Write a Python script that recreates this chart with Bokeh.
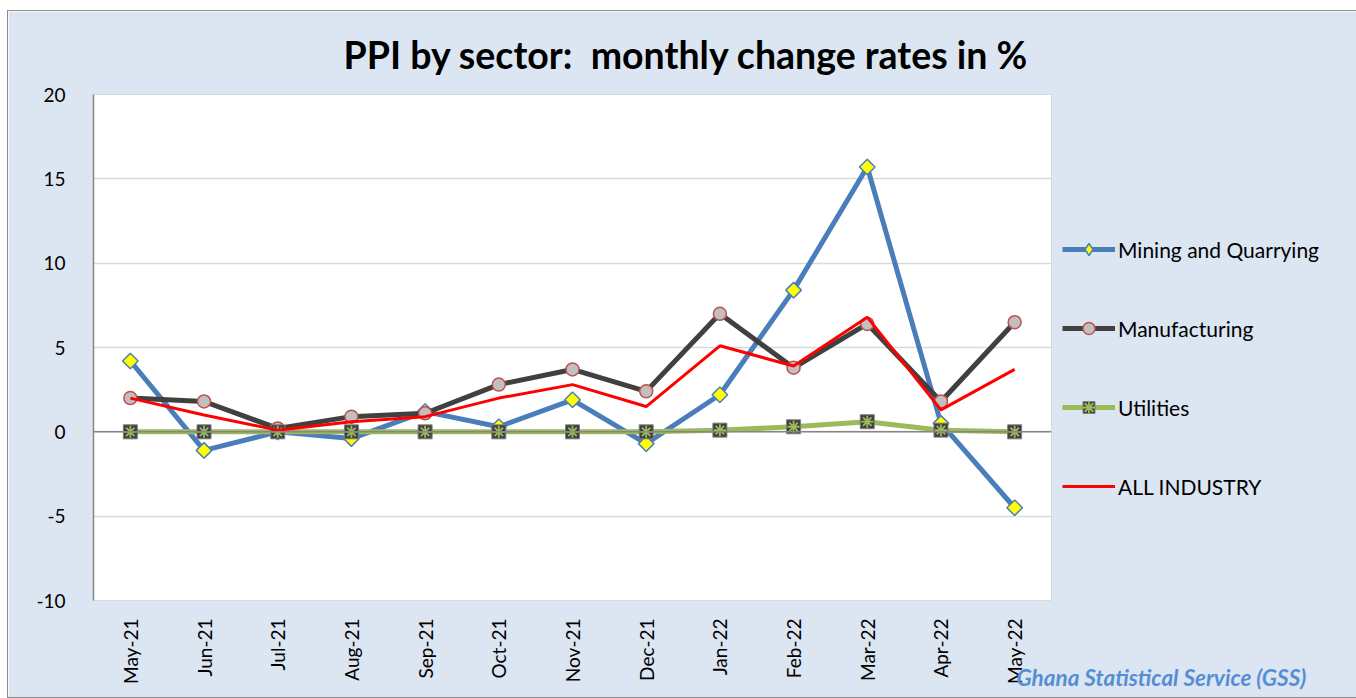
import math
from bokeh.plotting import figure
from bokeh.models import FactorRange, Span, Legend, LegendItem, FixedTicker, Title
from bokeh.embed import file_html
from bokeh.resources import INLINE

months = ["May-21", "Jun-21", "Jul-21", "Aug-21", "Sep-21", "Oct-21", "Nov-21",
          "Dec-21", "Jan-22", "Feb-22", "Mar-22", "Apr-22", "May-22"]
mining = [4.2, -1.1, 0.0, -0.4, 1.2, 0.3, 1.9, -0.7, 2.2, 8.4, 15.7, 0.5, -4.5]
manufacturing = [2.0, 1.8, 0.2, 0.9, 1.1, 2.8, 3.7, 2.4, 7.0, 3.8, 6.4, 1.8, 6.5]
utilities = [0.0, 0.0, 0.0, 0.0, 0.0, 0.0, 0.0, 0.0, 0.1, 0.3, 0.6, 0.1, 0.0]
all_industry = [2.0, 1.0, 0.1, 0.6, 0.9, 2.0, 2.8, 1.5, 5.1, 3.9, 6.8, 1.3, 3.7]
y_ticks = [-10, -5, 0, 5, 10, 15, 20]

FONT = "Lato"
BG = "#DCE6F2"

p = figure(x_range=FactorRange(*months), y_range=(-10, 20),
           frame_width=958, frame_height=506, output_backend="svg", toolbar_location=None,
           min_border_left=85, min_border_right=0, min_border_top=83, min_border_bottom=97)
p.margin = (11, 0, 0, 8)
p.styles = {"box-shadow": "0 0 0 1px #8C8C8C"}
p.background_fill_color = "white"
p.border_fill_color = BG
p.outline_line_color = "#D9D9D9"

p.title.text = "PPI by sector:\u00a0 monthly change rates in %"
p.title.text_font = FONT
p.title.text_font_size = "37.5px"
p.title.text_font_style = "bold"
p.title.text_color = "black"
p.title.align = "left"
p.title.offset = 250
p.title.standoff = 36

p.xgrid.grid_line_color = None
p.ygrid.grid_line_color = "#D9D9D9"
p.ygrid.grid_line_width = 1.5

p.yaxis.ticker = FixedTicker(ticks=y_ticks)
p.yaxis.major_label_overrides = {t: str(t) for t in y_ticks}
p.yaxis.axis_line_color = "#868686"
p.yaxis.axis_line_width = 1.5
p.yaxis.major_tick_line_color = None
p.yaxis.minor_tick_line_color = None
p.yaxis.major_label_standoff = 22
p.yaxis.major_label_text_font = FONT
p.yaxis.major_label_text_font_size = "19px"
p.yaxis.major_label_text_color = "black"

p.xaxis.axis_line_color = None
p.xaxis.major_tick_line_color = None
p.xaxis.minor_tick_line_color = None
p.xaxis.major_label_orientation = math.pi / 2
p.xaxis.major_label_standoff = 12
p.xaxis.major_label_text_font = FONT
p.xaxis.major_label_text_font_size = "19px"
p.xaxis.major_label_text_color = "black"

p.add_layout(Span(location=0, dimension="width", line_color="#868686", line_width=1.5))

r_min_l = p.line(months, mining, line_color="#4A7EBB", line_width=5)
r_min_m = p.scatter(months, mining, marker="square", size=11, angle=math.pi / 4,
                    fill_color="#FFFF00", line_color="#4A7EBB", line_width=1.5)
r_man_l = p.line(months, manufacturing, line_color="#404040", line_width=5)
r_man_m = p.scatter(months, manufacturing, marker="circle", size=13,
                    fill_color="#C0C0C0", line_color="#C0504D", line_width=1.5)
r_ut_l = p.line(months, utilities, line_color="#9BBB59", line_width=5)
r_ut_m = p.scatter(months, utilities, marker="square", size=14,
                   fill_color="#3F3F3F", line_color="#7F7F7F", line_width=1)
r_ut_a = p.scatter(months, utilities, marker="asterisk", size=12,
                   line_color="#9BBB59", line_width=1.8)
r_all = p.line(months, all_industry, line_color="#FF0000", line_width=3)

# legend glyph for mining: the legend draws markers unrotated, so use a diamond
# of zero size in the plot (legend sizes its markers on its own)
r_min_leg = p.scatter(months, mining, marker="diamond", size=0, fill_color="#FFFF00",
                      line_color="#4A7EBB", line_width=1.5)

legend = Legend(items=[
    LegendItem(label="Mining and Quarrying", renderers=[r_min_l, r_min_leg]),
    LegendItem(label="Manufacturing", renderers=[r_man_l, r_man_m]),
    LegendItem(label="Utilities", renderers=[r_ut_l, r_ut_m, r_ut_a]),
    LegendItem(label="ALL INDUSTRY", renderers=[r_all]),
], location=(11, 99), orientation="vertical")
legend.glyph_width = 53
legend.glyph_height = 30
legend.label_height = 30
legend.spacing = 49
legend.padding = 0
legend.margin = 0
legend.label_standoff = 3
legend.label_text_font = FONT
legend.label_text_font_size = "21px"
legend.label_text_color = "black"
legend.border_line_color = None
legend.background_fill_alpha = 0
p.add_layout(legend, "right")

source = Title(text="Ghana Statistical Service (GSS)", align="left", offset=923,
               standoff=-46, vertical_align="top", text_font=FONT, text_font_size="22.5px",
               text_font_style="bold italic", text_color="#558ED5")
p.add_layout(source, "below")

open("out.html", "w").write(file_html(p, INLINE))
